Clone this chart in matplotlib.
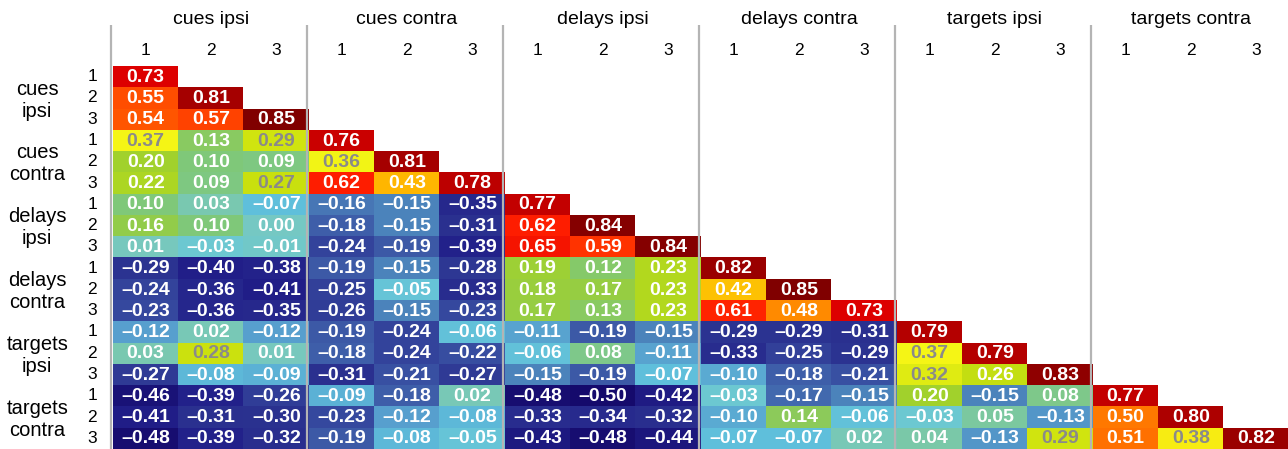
#!/usr/bin/env python3
import numpy as np
import matplotlib
matplotlib.use('Agg')
import matplotlib.pyplot as plt
from matplotlib.colors import LinearSegmentedColormap

plt.rcParams['font.family'] = ['Liberation Sans', 'DejaVu Sans']

GROUPS = ['cues ipsi', 'cues contra', 'delays ipsi', 'delays contra',
          'targets ipsi', 'targets contra']
ROW_GROUPS = ['cues\nipsi', 'cues\ncontra', 'delays\nipsi', 'delays\ncontra',
              'targets\nipsi', 'targets\ncontra']
SUB_LABELS = ['1', '2', '3']

# lower triangle of the correlation matrix, row by row
ROWS = [
    [0.73],
    [0.55, 0.81],
    [0.54, 0.57, 0.85],
    [0.37, 0.13, 0.29, 0.76],
    [0.20, 0.10, 0.09, 0.36, 0.81],
    [0.22, 0.09, 0.27, 0.62, 0.43, 0.78],
    [0.10, 0.03, -0.07, -0.16, -0.15, -0.35, 0.77],
    [0.16, 0.10, 0.00, -0.18, -0.15, -0.31, 0.62, 0.84],
    [0.01, -0.03, -0.01, -0.24, -0.19, -0.39, 0.65, 0.59, 0.84],
    [-0.29, -0.40, -0.38, -0.19, -0.15, -0.28, 0.19, 0.12, 0.23, 0.82],
    [-0.24, -0.36, -0.41, -0.25, -0.05, -0.33, 0.18, 0.17, 0.23, 0.42, 0.85],
    [-0.23, -0.36, -0.35, -0.26, -0.15, -0.23, 0.17, 0.13, 0.23, 0.61, 0.48, 0.73],
    [-0.12, 0.02, -0.12, -0.19, -0.24, -0.06, -0.11, -0.19, -0.15, -0.29, -0.29, -0.31,
     0.79],
    [0.03, 0.28, 0.01, -0.18, -0.24, -0.22, -0.06, 0.08, -0.11, -0.33, -0.25, -0.29,
     0.37, 0.79],
    [-0.27, -0.08, -0.09, -0.31, -0.21, -0.27, -0.15, -0.19, -0.07, -0.10, -0.18, -0.21,
     0.32, 0.26, 0.83],
    [-0.46, -0.39, -0.26, -0.09, -0.18, 0.02, -0.48, -0.50, -0.42, -0.03, -0.17, -0.15,
     0.20, -0.15, 0.08, 0.77],
    [-0.41, -0.31, -0.30, -0.23, -0.12, -0.08, -0.33, -0.34, -0.32, -0.10, 0.14, -0.06,
     -0.03, 0.05, -0.13, 0.50, 0.80],
    [-0.48, -0.39, -0.32, -0.19, -0.08, -0.05, -0.43, -0.48, -0.44, -0.07, -0.07, 0.02,
     0.04, -0.13, 0.29, 0.51, 0.38, 0.82],
]

# colour anchors (value -> colour), jet-like palette of the original
VMIN, VMAX = -0.50, 0.85
anchors = [
    (-0.50, '#150a6c'), (-0.40, '#22208a'), (-0.30, '#2b3290'),
    (-0.24, '#34449c'), (-0.18, '#3f60aa'), (-0.15, '#4c84bc'),
    (-0.12, '#579fce'), (-0.07, '#60c0dc'), (-0.03, '#6cc8d2'),
    (0.00, '#76c8c2'), (0.03, '#7ac8b0'), (0.10, '#80c878'),
    (0.16, '#92cc4c'), (0.20, '#a2d22c'), (0.27, '#c8e00e'),
    (0.37, '#f6f616'), (0.43, '#ffb800'), (0.48, '#ff8a00'),
    (0.55, '#ff5000'), (0.62, '#ff1e00'), (0.73, '#e00000'),
    (0.81, '#a80000'), (0.85, '#800000'),
]
cmap = LinearSegmentedColormap.from_list(
    'corr', [((v - VMIN) / (VMAX - VMIN), c) for v, c in anchors])

n = len(ROWS)
mat = np.full((n, n), np.nan)
for i, row in enumerate(ROWS):
    mat[i, :len(row)] = row
masked = np.ma.masked_invalid(mat)

fig = plt.figure(figsize=(12.88, 4.49), dpi=100)
ax = fig.add_axes([113 / 1288, 0, 1176 / 1288, 383 / 449])
ax.imshow(masked, cmap=cmap, vmin=VMIN, vmax=VMAX, aspect='auto',
          interpolation='nearest')
ax.set_xlim(-0.5, n - 0.5)
ax.set_ylim(n - 0.5, -0.5)
ax.axis('off')

for i, row in enumerate(ROWS):
    for j, v in enumerate(row):
        txt = '%.2f' % v
        txt = txt.replace('-', '\u2013')
        col = '#8a8a8a' if 0.265 <= v <= 0.40 else 'white'
        ax.text(j, i + 0.03, txt, ha='center', va='center', color=col,
                fontsize=14, fontweight='bold')

# group separators
for g in range(len(GROUPS)):
    x = g * 3 - 0.53
    ax.plot([x, x], [n - 0.5, -2.45], color='#b4b4b4', lw=1.6,
            clip_on=False, solid_capstyle='butt', zorder=5)

# column headers
for g, name in enumerate(GROUPS):
    ax.text(g * 3 + 1, -2.7, name, ha='center', va='center', fontsize=14,
            clip_on=False)
    for k, s in enumerate(SUB_LABELS):
        ax.text(g * 3 + k, -1.22, s, ha='center', va='center', fontsize=12.5,
                clip_on=False)

# row headers
for g, name in enumerate(ROW_GROUPS):
    ax.text(-1.66, g * 3 + 1.1, name, ha='center', va='center', fontsize=14.5,
            linespacing=1.2, clip_on=False)
    for k, s in enumerate(SUB_LABELS):
        ax.text(-0.82, g * 3 + k, s, ha='center', va='center', fontsize=12.5,
                clip_on=False)

fig.savefig('out.png', dpi=100)
